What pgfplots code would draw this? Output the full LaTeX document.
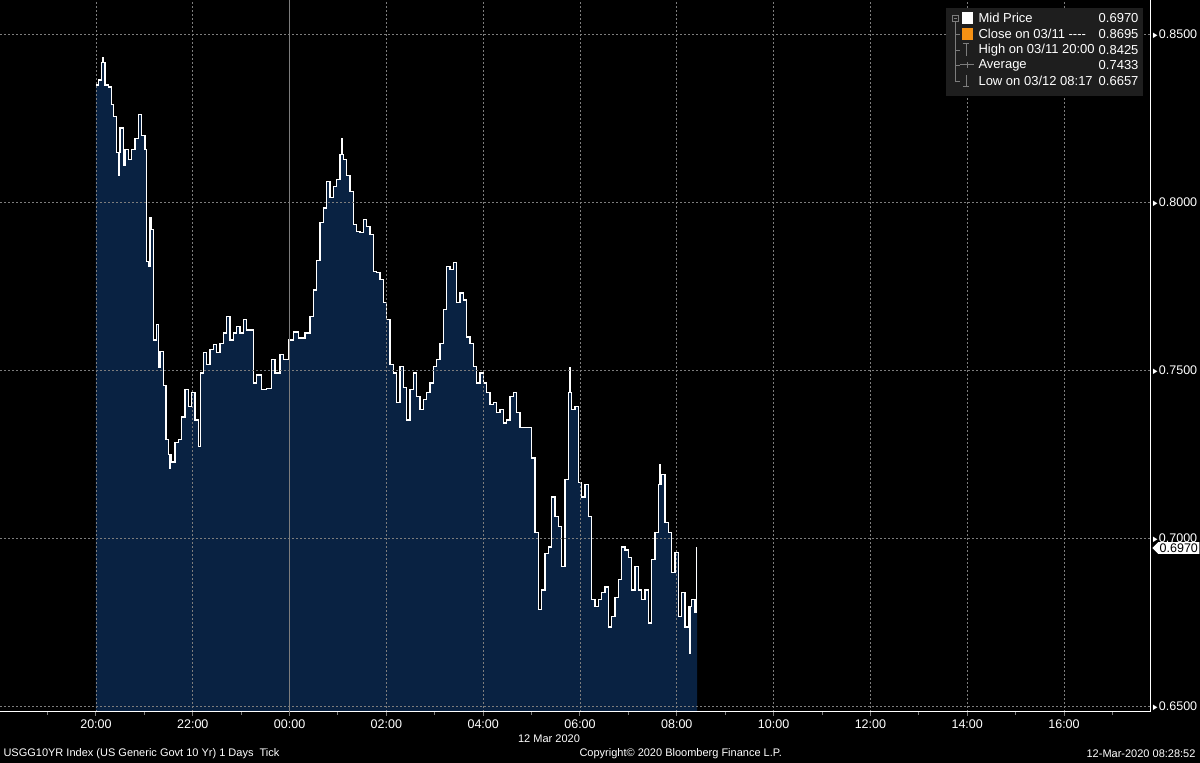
\documentclass[border=0pt]{standalone}
\usepackage{fontspec}
\setmainfont{Liberation Sans}
\usepackage{pgfplots}
\usepackage{pgfplotstable}
\pgfplotsset{compat=1.18}
\usetikzlibrary{shapes.symbols}

\definecolor{bbfill}{RGB}{9,34,66}
\definecolor{bbgrid}{RGB}{125,125,125}
\definecolor{bblegend}{RGB}{30,30,30}
\definecolor{bborange}{RGB}{245,145,20}

% US 10y yield, mid price, hours after 20:00 on 11 Mar 2020
\pgfplotstableread{
t v
0.000 0.8348
0.048 0.8363
0.118 0.8414
0.140 0.8429
0.160 0.8414
0.186 0.8348
0.254 0.8342
0.324 0.8289
0.357 0.8253
0.428 0.8146
0.460 0.8080
0.480 0.8146
0.496 0.8220
0.564 0.8110
0.599 0.8155
0.667 0.8125
0.738 0.8155
0.806 0.8190
0.874 0.8259
0.944 0.8199
1.012 0.8155
1.048 0.7822
1.080 0.7807
1.116 0.7955
1.151 0.7917
1.184 0.7589
1.254 0.7634
1.287 0.7506
1.322 0.7554
1.390 0.7455
1.446 0.7292
1.494 0.7247
1.520 0.7208
1.540 0.7247
1.564 0.7226
1.632 0.7283
1.700 0.7292
1.771 0.7360
1.839 0.7441
1.907 0.7390
1.977 0.7432
2.045 0.7351
2.114 0.7271
2.163 0.7491
2.217 0.7551
2.287 0.7515
2.355 0.7560
2.424 0.7575
2.494 0.7551
2.562 0.7580
2.630 0.7610
2.700 0.7658
2.769 0.7589
2.837 0.7610
2.907 0.7628
2.975 0.7610
3.043 0.7649
3.114 0.7619
3.250 0.7461
3.320 0.7485
3.424 0.7441
3.527 0.7446
3.630 0.7530
3.698 0.7491
3.802 0.7545
3.870 0.7530
3.973 0.7589
4.076 0.7613
4.180 0.7595
4.318 0.7610
4.421 0.7658
4.490 0.7738
4.560 0.7827
4.628 0.7940
4.696 0.7982
4.767 0.8060
4.835 0.8012
4.903 0.8045
4.973 0.8066
5.041 0.8140
5.070 0.8190
5.090 0.8140
5.110 0.8125
5.180 0.8080
5.248 0.8030
5.316 0.7932
5.386 0.7911
5.455 0.7908
5.523 0.7947
5.593 0.7926
5.661 0.7902
5.729 0.7792
5.800 0.7789
5.868 0.7768
5.936 0.7700
6.006 0.7649
6.074 0.7515
6.143 0.7491
6.213 0.7402
6.281 0.7509
6.349 0.7449
6.419 0.7351
6.488 0.7441
6.556 0.7491
6.626 0.7420
6.694 0.7381
6.762 0.7411
6.833 0.7432
6.901 0.7461
6.969 0.7509
7.039 0.7530
7.107 0.7580
7.176 0.7679
7.246 0.7807
7.314 0.7798
7.382 0.7819
7.452 0.7700
7.521 0.7729
7.589 0.7708
7.659 0.7598
7.727 0.7580
7.795 0.7509
7.866 0.7461
7.934 0.7491
8.002 0.7461
8.072 0.7432
8.140 0.7396
8.209 0.7402
8.279 0.7372
8.347 0.7381
8.415 0.7342
8.486 0.7351
8.554 0.7420
8.622 0.7432
8.692 0.7372
8.760 0.7330
9.002 0.7238
9.070 0.7015
9.138 0.6786
9.209 0.6845
9.277 0.6955
9.345 0.6973
9.415 0.7122
9.483 0.7063
9.552 0.7033
9.622 0.6914
9.690 0.7173
9.758 0.7432
9.790 0.7506
9.810 0.7432
9.829 0.7381
9.897 0.7390
9.965 0.7164
10.035 0.7122
10.103 0.7158
10.171 0.7063
10.242 0.6816
10.310 0.6795
10.378 0.6816
10.448 0.6837
10.517 0.6854
10.585 0.6735
10.655 0.6765
10.723 0.6824
10.791 0.6875
10.862 0.6973
10.930 0.6964
10.998 0.6943
11.068 0.6845
11.136 0.6914
11.205 0.6845
11.275 0.6816
11.343 0.6845
11.411 0.6747
11.481 0.6935
11.550 0.7015
11.618 0.7158
11.640 0.7217
11.660 0.7158
11.688 0.7188
11.756 0.7045
11.824 0.7015
11.895 0.6896
11.963 0.6956
12.031 0.6765
12.101 0.6837
12.169 0.6735
12.238 0.6796
12.270 0.6657
12.290 0.6796
12.308 0.6816
12.376 0.6778
12.400 0.6970
12.420 0.6970
}\yield

\begin{document}
\begin{tikzpicture}
\path[use as bounding box, fill=black] (0pt,0pt) rectangle (1200pt,763pt);
\begin{axis}[
    at={(0pt,51pt)}, anchor=south west,
    scale only axis, width=1150pt, height=712pt,
    xmin=-1.983, xmax=21.777, ymin=0.6482, ymax=0.8601,
    axis x line*=bottom, axis y line*=right,
    axis line style={white, line width=1pt, -},
    axis on top,
    xtick={0,2,...,20},
    xticklabels={20:00,22:00,00:00,02:00,04:00,06:00,08:00,10:00,12:00,14:00,16:00},
    minor xtick={-1,1,3,5,7,9,11,13,15,17,19,21},
    ytick={0.65,0.70,0.75,0.80,0.85},
    tick align=outside,
    major tick length=4pt, minor tick length=3pt,
    x tick style={bbgrid, line width=1pt},
    y tick style={draw=none},
    grid=major,
    major grid style={bbgrid, dash pattern=on 1.5pt off 2.5pt, line width=0.7pt},
    extra x ticks={4}, extra x tick labels={},
    extra x tick style={major grid style={solid, bbgrid, line width=0.8pt}, major tick length=0pt},
    /pgf/number format/assume math mode=true,
    ticklabel style={font=\fontsize{12.5}{14}\selectfont, text=white},
    yticklabel={\scalebox{0.6}[0.75]{►}\pgfmathprintnumber[fixed, fixed zerofill, precision=4]{\tick}},
    yticklabel style={xshift=-6pt},
]
\addplot[const plot, fill=bbfill, draw=none] table[x=t, y=v] {\yield} \closedcycle;
\addplot[const plot, white, line width=1.1pt] table[x=t, y=v] {\yield};
\end{axis}

% last price marker
\node[signal, signal to=west, fill=white, text=black, inner sep=1.5pt, anchor=west,
      font=\fontsize{12.5}{14}\selectfont] at (1152pt,215pt) {0.6970};

% legend box
\fill[bblegend] (946pt,667pt) rectangle (1143pt,755pt);
\begin{scope}[font=\fontsize{13}{15}\selectfont, text=white]
\draw[bbgrid, line width=0.8pt] (955pt,742pt) -- (955pt,682pt) -- (960pt,682pt)
    (955pt,729pt) -- (960pt,729pt) (955pt,713pt) -- (960pt,713pt) (955pt,698pt) -- (960pt,698pt);
\draw[bbgrid, line width=0.8pt, fill=bblegend] (952pt,742pt) rectangle (958pt,748pt);
\draw[bbgrid, line width=0.8pt] (953.5pt,745pt) -- (956.5pt,745pt);
\fill[white] (962pt,739pt) rectangle (973pt,751pt);
\fill[bborange] (962pt,723pt) rectangle (973pt,735pt);
\draw[bbgrid, line width=1pt] (963pt,719pt) -- (969pt,719pt) (966pt,719pt) -- (966pt,707pt);
\draw[bbgrid, line width=1pt] (960pt,698pt) -- (974pt,698pt) (967pt,695pt) -- (967pt,701pt);
\draw[bbgrid, line width=1pt] (966pt,688pt) -- (966pt,676pt) (963pt,676pt) -- (969pt,676pt);
\node[anchor=west] at (975pt,745pt) {Mid Price};
\node[anchor=west] at (975pt,729pt) {Close on 03/11 {-}{-}{-}{-}};
\node[anchor=west] at (975pt,713pt) {High on 03/11 20:00};
\node[anchor=west] at (975pt,698pt) {Average};
\node[anchor=west] at (975pt,682pt) {Low on 03/12 08:17};
\node[anchor=east] at (1142pt,745pt) {0.6970};
\node[anchor=east] at (1142pt,729pt) {0.8695};
\node[anchor=east] at (1142pt,713pt) {0.8425};
\node[anchor=east] at (1142pt,698pt) {0.7433};
\node[anchor=east] at (1142pt,682pt) {0.6657};
\end{scope}

% footer
\begin{scope}[font=\fontsize{11}{13}\selectfont, text=white]
\node at (549pt,24pt) {12 Mar 2020};
\node[anchor=west] at (0pt,9pt) {USGG10YR Index (US Generic Govt 10 Yr) 1 Days\ \ Tick};
\node[anchor=west] at (576pt,9pt) {Copyright© 2020 Bloomberg Finance L.P.};
\node[anchor=east] at (1199pt,9pt) {12-Mar-2020 08:28:52};
\end{scope}
\end{tikzpicture}
\end{document}
